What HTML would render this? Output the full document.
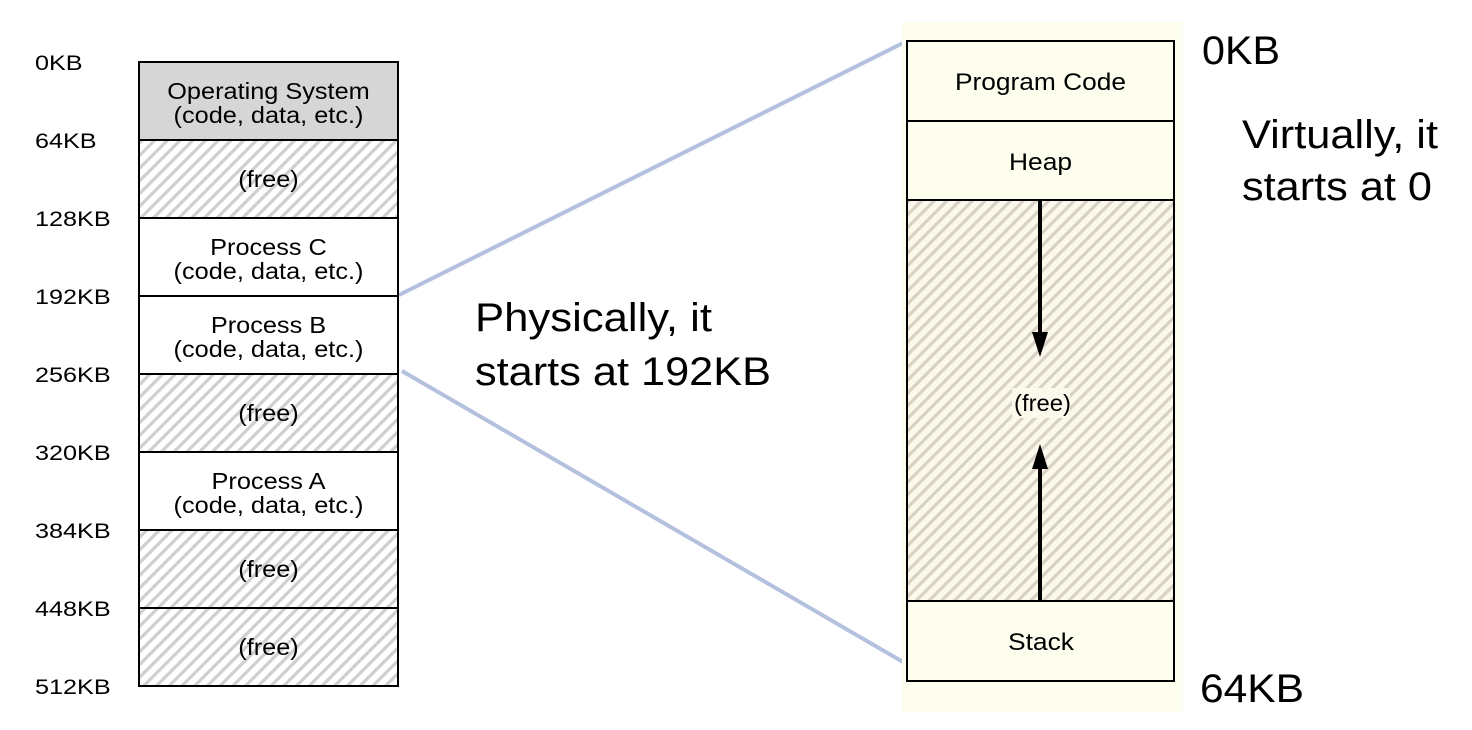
<!DOCTYPE html>
<html><head><meta charset="utf-8"><style>
body{margin:0;background:#fff;}
svg{display:block;font-family:"Liberation Sans",Arial,sans-serif;}
</style></head><body>
<svg width="1472" height="730" viewBox="0 0 1472 730">
<defs>
<pattern id="hg" patternUnits="userSpaceOnUse" width="9" height="9" patternTransform="rotate(45)">
<rect width="9" height="9" fill="#fff"/><rect width="3.2" height="9" fill="#cfcfcf"/></pattern>
<pattern id="ht" patternUnits="userSpaceOnUse" width="9" height="9" patternTransform="rotate(45)">
<rect width="9" height="9" fill="#fbf8ec"/><rect width="3.2" height="9" fill="#d9d2c4"/></pattern>
</defs>
<line x1="399" y1="295" x2="905" y2="42" stroke="#b4c1de" stroke-width="4"/>
<line x1="402" y1="371" x2="903" y2="662" stroke="#b4c1de" stroke-width="4"/>
<g id="left"></g>
<rect x="902" y="22" width="281" height="690" fill="#fefef0"/>
<g>
<rect x="907" y="41" width="267" height="80" fill="#fefeee" stroke="#000" stroke-width="2"/>
<text x="955" y="90" font-size="24" textLength="171" lengthAdjust="spacingAndGlyphs">Program Code</text>
<rect x="907" y="121" width="267" height="79" fill="#fefeee" stroke="#000" stroke-width="2"/>
<text x="1009" y="170" font-size="24" textLength="63" lengthAdjust="spacingAndGlyphs">Heap</text>
<rect x="907" y="200" width="267" height="401" fill="url(#ht)" stroke="#000" stroke-width="2"/>
<rect x="1012" y="388" width="58" height="30" fill="#fbf8ec"/>
<text x="1014" y="411" font-size="23" textLength="57" lengthAdjust="spacingAndGlyphs">(free)</text>
<rect x="907" y="601" width="267" height="80" fill="#fefeee" stroke="#000" stroke-width="2"/>
<text x="1008" y="650" font-size="24" textLength="66" lengthAdjust="spacingAndGlyphs">Stack</text>
<line x1="1040" y1="201" x2="1040" y2="335" stroke="#000" stroke-width="4"/>
<polygon points="1032,332 1048,332 1040,357" fill="#000"/>
<line x1="1040" y1="600" x2="1040" y2="466" stroke="#000" stroke-width="4"/>
<polygon points="1032,469 1048,469 1040,444" fill="#000"/>
</g>
<text x="1202" y="64" font-size="40" textLength="78" lengthAdjust="spacingAndGlyphs">0KB</text>
<text x="1200" y="702" font-size="40" textLength="104" lengthAdjust="spacingAndGlyphs">64KB</text>
<text x="1242" y="148" font-size="40" textLength="196" lengthAdjust="spacingAndGlyphs">Virtually, it</text>
<text x="1242" y="200" font-size="40" textLength="190" lengthAdjust="spacingAndGlyphs">starts at 0</text>
<text x="475" y="331" font-size="40" textLength="237" lengthAdjust="spacingAndGlyphs">Physically, it</text>
<text x="475" y="385" font-size="40" textLength="296" lengthAdjust="spacingAndGlyphs">starts at 192KB</text>
</svg>
<script>
const rowLabels=["Operating System|(code, data, etc.)","(free)","Process C|(code, data, etc.)","Process B|(code, data, etc.)","(free)","Process A|(code, data, etc.)","(free)","(free)"];
const rowKinds=["os","free","proc","proc","free","proc","free","free"];
const addrLabels=["0KB","64KB","128KB","192KB","256KB","320KB","384KB","448KB","512KB"];
const NS="http://www.w3.org/2000/svg";
const g=document.getElementById('left');
const top0=62,step=78,x0=139,w=259;
function mk(t,a){const e=document.createElementNS(NS,t);for(const k in a)e.setAttribute(k,a[k]);return e;}
function widthFor(s,fs){return s.length*fs*0.5;}
rowLabels.forEach((lab,i)=>{
 const y=top0+i*step;
 const fill=rowKinds[i]==="os"?"#d6d6d6":rowKinds[i]==="free"?"url(#hg)":"#fff";
 const r=mk('rect',{x:x0,y:y,width:w,height:step,fill:fill,stroke:"#000","stroke-width":2});
 
 
 g.appendChild(r);
 const parts=lab.split('|');
 parts.forEach((p,j)=>{
  const ty=parts.length===1?y+step/2+8:y+step/2-2+j*24;
  const t=mk('text',{x:x0+w/2,y:ty,"font-size":23,"text-anchor":"middle"});
  t.textContent=p;
  const bb=0;
  
  
  g.appendChild(t);
  const cur=t.getComputedTextLength();
  t.setAttribute('textLength',(cur*1.1).toFixed(1));
  t.setAttribute('lengthAdjust','spacingAndGlyphs');
 });
});
addrLabels.forEach((a,i)=>{
 const t=mk('text',{x:35,y:top0+i*step+8,"font-size":21});
 t.textContent=a;
 
 
 g.appendChild(t);
 const cur=t.getComputedTextLength();
 t.setAttribute('textLength',(cur*1.2).toFixed(1));
 t.setAttribute('lengthAdjust','spacingAndGlyphs');
});
</script>
</body></html>
